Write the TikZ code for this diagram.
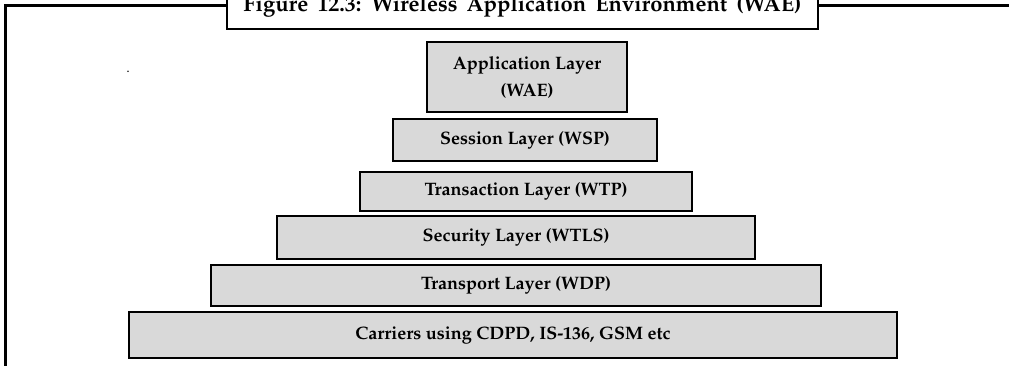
\documentclass[tikz,border=0pt]{standalone}
\usepackage[T1]{fontenc}
\renewcommand{\rmdefault}{ppl}
\usepackage{tikz}
\usetikzlibrary{shapes,arrows,positioning,calc}

\newcommand{\widewords}{\spaceskip=9pt plus 1pt\relax}
\definecolor{layergray}{RGB}{217,217,217}
\tikzset{
  layer/.style={draw=black, line width=1.5pt, fill=layergray, inner sep=0pt,
    font=\fontsize{18}{27}\selectfont\bfseries, align=center},
  frame/.style={draw=black, line width=3pt},
  titlebox/.style={draw=black, line width=2.5pt, fill=white, inner sep=0pt,
    font=\fontsize{22}{26}\selectfont\bfseries}
}

\begin{document}
\begin{tikzpicture}[x=1pt,y=-1pt]
  \useasboundingbox (0,0) rectangle (1009,365);
  % outer frame and title
  \draw[frame] (227,5) -| (5,372);
  \draw[frame] (818,5) -- (1015,5);
  \node[titlebox, minimum width=591pt, minimum height=46pt] (title) at (522.5,6)
    {\widewords Figure 12.3: Wireless Application Environment (WAE)};
  \node[font=\bfseries] (dot) at (128,72) {.};
  % the layers
  \node[layer, minimum width=200pt, minimum height=70pt] (app) at (527,77)
    {Application Layer\\(WAE)};
  \node[layer, minimum width=264pt, minimum height=42pt] (session) at (525,140)
    {Session Layer (WSP)};
  \node[layer, minimum width=332pt, minimum height=39pt] (transaction) at (526,191.5)
    {Transaction Layer (WTP)};
  \node[layer, minimum width=478pt, minimum height=43pt] (security) at (516,237.5)
    {Security Layer (WTLS)};
  \node[layer, minimum width=610pt, minimum height=41pt] (transport) at (516,285.5)
    {Transport Layer (WDP)};
  \node[layer, minimum width=768pt, minimum height=46pt] (carriers) at (513,335)
    {Carriers using CDPD, IS-136, GSM etc};
\end{tikzpicture}
\end{document}
